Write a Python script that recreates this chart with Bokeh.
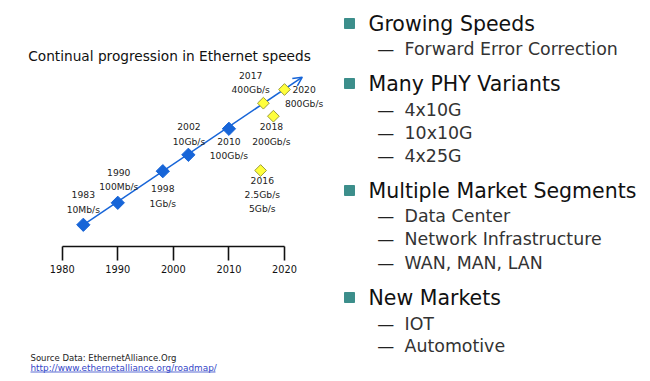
import math
from bokeh.plotting import figure
from bokeh.models import Range1d, LinearAxis, FixedTicker, Arrow, OpenHead, ColumnDataSource
from bokeh.core.properties import value
from bokeh.embed import file_html
from bokeh.resources import INLINE

# ---------------- data ----------------
years = [1983.8, 1990.0, 1998.1, 2002.7, 2010.0, 2015.7, 2016.2, 2018.0, 2020.0]
levels = [21.7, 43.7, 75.3, 91.7, 117.7, 76.0, 143.3, 130.3, 157.0]
labels = ["1983\n10Mb/s", "1990\n100Mb/s", "1998\n1Gb/s", "2002\n10Gb/s",
          "2010\n100Gb/s", "2016\n2.5Gb/s\n5Gb/s", "2017\n400Gb/s",
          "2018\n200Gb/s", "2020\n800Gb/s"]
status = ["shipped", "shipped", "shipped", "shipped", "shipped",
          "future", "future", "future", "future"]
trend_x = [1983.8, 2023.2]
trend_y = [21.7, 169.3]
tick_years = [1980, 1990, 2000, 2010, 2020]

chart_title = "Continual progression in Ethernet speeds"
headings = ["Growing Speeds", "Many PHY Variants", "Multiple Market Segments", "New Markets"]
subitems = [["Forward Error Correction"],
            ["4x10G", "10x10G", "4x25G"],
            ["Data Center", "Network Infrastructure", "WAN, MAN, LAN"],
            ["IOT", "Automotive"]]
source_line = "Source Data: EthernetAlliance.Org"
source_link = "http://www.ethernetalliance.org/roadmap/"

# ---------------- layout / style ----------------
W, H = 650, 381
PX_PER_YEAR = (284.0 - 61.7) / 40.0
X0 = 1980 - 61.7 / PX_PER_YEAR
X1 = X0 + W / PX_PER_YEAR
AXIS_Y = 246.0  # page y of the axis line
Y0 = -(H - AXIS_Y)
Y1 = AXIS_Y

lab_dx = [0, 1, 0, 0.6, 0, 1.7, -12.7, -2, 19.6]
lab_dy = [-22.8, -23, 24.8, -20.8, 19.9, 24, -20.5, 17.8, 6.8]

heading_y = [23, 83, 190, 297]
sub_y = [[48], [109, 132, 155], [215, 238, 262], [323, 345]]

BLUE = "#1765d8"
style = {
    "shipped": dict(fill="#1765d8", line="#1765d8", size=9.4),
    "future": dict(fill="#ffff3c", line="#9d9d3a", size=8.3),
}
FONT = value("DejaVu Sans")

p = figure(width=W, height=H, x_range=Range1d(X0, X1), y_range=Range1d(Y0, Y1),
           output_backend="svg", toolbar_location=None, min_border=0,
           x_axis_location=None, y_axis_location=None, outline_line_color=None,
           background_fill_color="white", border_fill_color="white")
p.xgrid.visible = False
p.ygrid.visible = False
p.extra_x_ranges = {"px": Range1d(0, W)}
p.extra_y_ranges = {"py": Range1d(H, 0)}

# axis
ax = LinearAxis(ticker=FixedTicker(ticks=tick_years), bounds=(1980, 2020), fixed_location=0,
                major_tick_out=14, major_tick_in=0, minor_tick_line_color=None,
                axis_line_width=1.6, major_tick_line_width=1.6,
                axis_line_color="#111111", major_tick_line_color="#111111",
                major_label_text_font="DejaVu Sans", major_label_text_font_size="9.8px",
                major_label_text_color="#111111", major_label_standoff=4)
p.add_layout(ax, "below")

# trend arrow
arrow = Arrow(x_start=trend_x[0], y_start=trend_y[0], x_end=trend_x[1], y_end=trend_y[1],
              line_color=BLUE, line_width=1.5, level="underlay",
              end=OpenHead(size=9, line_color=BLUE, line_width=1.5))
p.add_layout(arrow)

src = ColumnDataSource(dict(
    year=years, level=levels, label=labels,
    fill=[style[s]["fill"] for s in status],
    line=[style[s]["line"] for s in status],
    size=[style[s]["size"] for s in status],
    dx=lab_dx, dy=lab_dy,
))
p.scatter(x="year", y="level", source=src, marker="square", angle=math.pi / 4,
          size="size", fill_color="fill", line_color="line", line_width=1)
p.text(x="year", y="level", text="label", source=src, x_offset="dx", y_offset="dy",
       text_align="center", text_baseline="middle", text_font=FONT,
       text_font_size="9.2px", text_color="#222222", text_line_height=1.28)

# title
p.text(x=[169], y=[55], text=[chart_title], x_range_name="px", y_range_name="py",
       text_align="center", text_baseline="middle", text_font=FONT,
       text_font_size="13.7px", text_color="#111111")

# right-hand bullets
p.scatter(x=[349] * len(headings), y=heading_y, x_range_name="px", y_range_name="py",
          marker="square", size=10, fill_color="#3c8e8b", line_color="#3c8e8b")
p.text(x=[368] * len(headings), y=heading_y, text=headings, x_range_name="px", y_range_name="py",
       text_align="left", text_baseline="middle", text_font=FONT,
       text_font_size="20.5px", text_color="#111111")
flat_sub = [s for grp in subitems for s in grp]
flat_y = [y for grp in sub_y for y in grp]
p.text(x=[376.7] * len(flat_sub), y=flat_y, text=["\u2014"] * len(flat_sub),
       x_range_name="px", y_range_name="py", text_align="left", text_baseline="middle",
       text_font=FONT, text_font_size="17px", text_color="#222222")
p.text(x=[404] * len(flat_sub), y=flat_y, text=flat_sub,
       x_range_name="px", y_range_name="py", text_align="left", text_baseline="middle",
       text_font=FONT, text_font_size="17.4px", text_color="#333333")

# source
p.text(x=[30], y=[357.7], text=[source_line], x_range_name="px", y_range_name="py",
       text_align="left", text_baseline="middle", text_font=FONT,
       text_font_size="8.5px", text_color="#222222")
p.text(x=[30], y=[367.3], text=[source_link], x_range_name="px", y_range_name="py",
       text_align="left", text_baseline="middle", text_font=FONT,
       text_font_size="8.9px", text_color="#3346c8")
p.segment(x0=[30], y0=[371.5], x1=[215], y1=[371.5], x_range_name="px", y_range_name="py",
          line_color="#3346c8", line_width=0.8)

open("out.html", "w").write(file_html(p, INLINE))
